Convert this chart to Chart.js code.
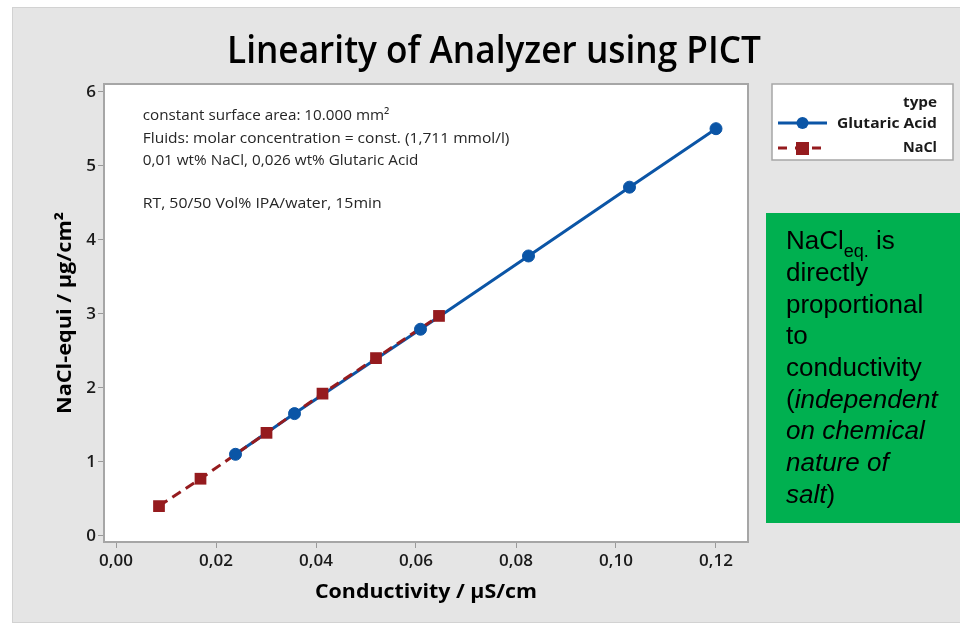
<!DOCTYPE html>
<html><head><meta charset="utf-8">
<script src="https://cdn.jsdelivr.net/npm/chart.js@4.4.1/dist/chart.umd.min.js"></script>
<style>html,body{margin:0;padding:0;background:#fff;} #wrap{width:960px;height:625px;}</style>
</head><body><div id="wrap"><canvas id="c" width="960" height="625"></canvas></div>
<script>
// ---- data ----
const seriesNames = ['Glutaric Acid', 'NaCl'];
const glutaricX = [0.0239, 0.0357, 0.0609, 0.0825, 0.1027, 0.1200];
const glutaricY = [1.10, 1.65, 2.79, 3.78, 4.71, 5.50];
const naclX = [0.0086, 0.0169, 0.0301, 0.0413, 0.0520, 0.0646];
const naclY = [0.40, 0.77, 1.39, 1.92, 2.40, 2.97];
const xTickValues = [0, 0.02, 0.04, 0.06, 0.08, 0.10, 0.12];
const xTickLabels = ['0,00', '0,02', '0,04', '0,06', '0,08', '0,10', '0,12'];
const yTickValues = [0, 1, 2, 3, 4, 5, 6];
const yTickLabels = ['0', '1', '2', '3', '4', '5', '6'];
const titleText = 'Linearity of Analyzer using PICT';
const xTitle = 'Conductivity / µS/cm';
const yTitle = 'NaCl-equi / µg/cm²';
const legendTitle = 'type';
const noteLines = [
  'constant surface area: 10.000 mm²',
  'Fluids: molar concentration = const. (1,711 mmol/l)',
  '0,01 wt% NaCl, 0,026 wt% Glutaric Acid',
  'RT, 50/50 Vol% IPA/water, 15min'
];
const boxLines = [
  [{t: 'NaCl'}, {t: 'eq.', sub: true}, {t: ' is'}],
  [{t: 'directly'}],
  [{t: 'proportional'}],
  [{t: 'to'}],
  [{t: 'conductivity'}],
  [{t: '('}, {t: 'independent', it: true}],
  [{t: 'on chemical', it: true}],
  [{t: 'nature of', it: true}],
  [{t: 'salt', it: true}, {t: ')'}]
];

// ---- styles ----
const BLUE = '#0b55a6';
const RED = '#951b1e';
const pts = (xs, ys) => xs.map((x, i) => ({x: x, y: ys[i]}));

function fitText(ctx, text, x, y, font, width, align, color) {
  ctx.save();
  ctx.font = font; ctx.fillStyle = color; ctx.textBaseline = 'alphabetic'; ctx.textAlign = 'left';
  const w = ctx.measureText(text).width;
  const tw = width || w;
  const s = tw / w;
  const left = align === 'center' ? x - tw / 2 : (align === 'right' ? x - tw : x);
  ctx.translate(left, y); ctx.scale(s, 1);
  ctx.fillText(text, 0, 0);
  ctx.restore();
}

const decor = {
  id: 'decor',
  beforeDraw(chart) {
    const ctx = chart.ctx, a = chart.chartArea;
    ctx.save();
    ctx.fillStyle = '#ffffff'; ctx.fillRect(0, 0, 960, 625);
    ctx.fillStyle = '#e5e5e5'; ctx.fillRect(12, 7, 948, 615);
    ctx.strokeStyle = '#d2d2d2'; ctx.lineWidth = 1; ctx.strokeRect(12.5, 7.5, 948, 615);
    ctx.fillStyle = '#ffffff'; ctx.fillRect(a.left, a.top, a.right - a.left, a.bottom - a.top);
    ctx.restore();
  },
  afterDraw(chart) {
    const ctx = chart.ctx, a = chart.chartArea;
    ctx.save();
    ctx.strokeStyle = '#a6a6a6'; ctx.lineWidth = 2;
    ctx.strokeRect(a.left, a.top, a.right - a.left, a.bottom - a.top);
    ctx.restore();

    fitText(ctx, titleText, 494, 62.7, '600 37px "Open Sans"', 534, 'center', '#000');
    fitText(ctx, xTitle, (a.left + a.right) / 2, 598, 'bold 20px "Open Sans"', 222, 'center', '#000');
    ctx.save();
    ctx.translate(70.5, (a.top + a.bottom) / 2);
    ctx.rotate(-Math.PI / 2);
    fitText(ctx, yTitle, 0, 0, 'bold 20px "Open Sans"', 202, 'center', '#000');
    ctx.restore();

    const noteBase = [120, 143.3, 165, 208.3];
    const noteW = [246.7, 366.7, 275.7, 239];
    noteLines.forEach((t, i) => fitText(ctx, t, 142.7, noteBase[i], '15px "Open Sans"', noteW[i], 'left', '#262626'));

    ctx.save();
    ctx.fillStyle = '#fff'; ctx.fillRect(772, 84, 181, 76);
    ctx.strokeStyle = '#a6a6a6'; ctx.lineWidth = 1.5; ctx.strokeRect(772, 84, 181, 76);
    ctx.restore();
    fitText(ctx, legendTitle, 937, 107, 'bold 15px "Open Sans"', 34, 'right', '#1a1a1a');
    fitText(ctx, seriesNames[0], 937, 128, 'bold 15px "Open Sans"', 100, 'right', '#1a1a1a');
    fitText(ctx, seriesNames[1], 937, 152, 'bold 15px "Open Sans"', 34, 'right', '#1a1a1a');
    ctx.save();
    ctx.strokeStyle = BLUE; ctx.lineWidth = 3;
    ctx.beginPath(); ctx.moveTo(778, 123); ctx.lineTo(827, 123); ctx.stroke();
    ctx.fillStyle = BLUE; ctx.beginPath(); ctx.arc(802.5, 123, 6, 0, Math.PI * 2); ctx.fill();
    ctx.strokeStyle = RED; ctx.setLineDash([9, 8]);
    ctx.beginPath(); ctx.moveTo(778, 148); ctx.lineTo(822, 148); ctx.stroke();
    ctx.setLineDash([]);
    ctx.fillStyle = RED; ctx.fillRect(796, 142, 13, 13);
    ctx.restore();

    ctx.save();
    ctx.fillStyle = '#00b050'; ctx.fillRect(766, 213, 194, 310);
    ctx.fillStyle = '#000'; ctx.textBaseline = 'alphabetic'; ctx.textAlign = 'left';
    boxLines.forEach((line, i) => {
      let x = 786; const y = 249.3 + i * 31.67;
      line.forEach(seg => {
        ctx.font = seg.sub ? '18px "Liberation Sans"' : ((seg.it ? 'italic ' : '') + '26px "Liberation Sans"');
        ctx.fillText(seg.t, x, seg.sub ? y + 7.4 : y);
        x += ctx.measureText(seg.t).width;
      });
    });
    ctx.restore();
  }
};

const tickFont = {family: 'Open Sans', size: 17, weight: '600'};

new Chart(document.getElementById('c'), {
  type: 'line',
  data: {
    datasets: [
      {label: seriesNames[0] + ' line', data: pts(glutaricX, glutaricY), borderColor: BLUE, borderWidth: 3,
       pointRadius: 0, tension: 0, fill: false, order: 4},
      {label: seriesNames[1] + ' line', data: pts(naclX, naclY), borderColor: RED, borderWidth: 3,
       borderDash: [10, 6], pointRadius: 0, tension: 0, fill: false, order: 3},
      {label: seriesNames[0], data: pts(glutaricX, glutaricY), showLine: false, pointStyle: 'circle',
       pointRadius: 6, pointBorderWidth: 1, pointBackgroundColor: BLUE, pointBorderColor: BLUE, order: 2},
      {label: seriesNames[1], data: pts(naclX, naclY), showLine: false, pointStyle: 'rect',
       pointRadius: 8.3, pointBorderWidth: 0, pointBackgroundColor: RED, pointBorderColor: RED, order: 1}
    ]
  },
  options: {
    responsive: false,
    animation: false,
    devicePixelRatio: 1,
    layout: {padding: {top: 84, right: 212, bottom: 0, left: 0}},
    plugins: {legend: {display: false}, title: {display: false}, tooltip: {enabled: false}},
    scales: {
      x: {
        type: 'linear', min: -0.0024, max: 0.1264,
        afterBuildTicks: s => { s.ticks = xTickValues.map(v => ({value: v})); },
        afterFit: s => { s.height = 83; },
        ticks: {callback: (v, i) => xTickLabels[i], font: tickFont, color: '#1a1a1a', padding: 3,
                maxRotation: 0, autoSkip: false},
        grid: {drawOnChartArea: false, drawTicks: true, tickLength: 6, color: '#9a9a9a', lineWidth: 1},
        border: {display: false}
      },
      y: {
        type: 'linear', min: -0.085, max: 6.104,
        afterBuildTicks: s => { s.ticks = yTickValues.map(v => ({value: v})); },
        afterFit: s => { s.width = 104; },
        ticks: {callback: (v, i) => yTickLabels[i], font: tickFont, color: '#1a1a1a', padding: 2, autoSkip: false},
        grid: {drawOnChartArea: false, drawTicks: true, tickLength: 6, color: '#9a9a9a', lineWidth: 1},
        border: {display: false}
      }
    }
  },
  plugins: [decor]
});
</script>
</body></html>
